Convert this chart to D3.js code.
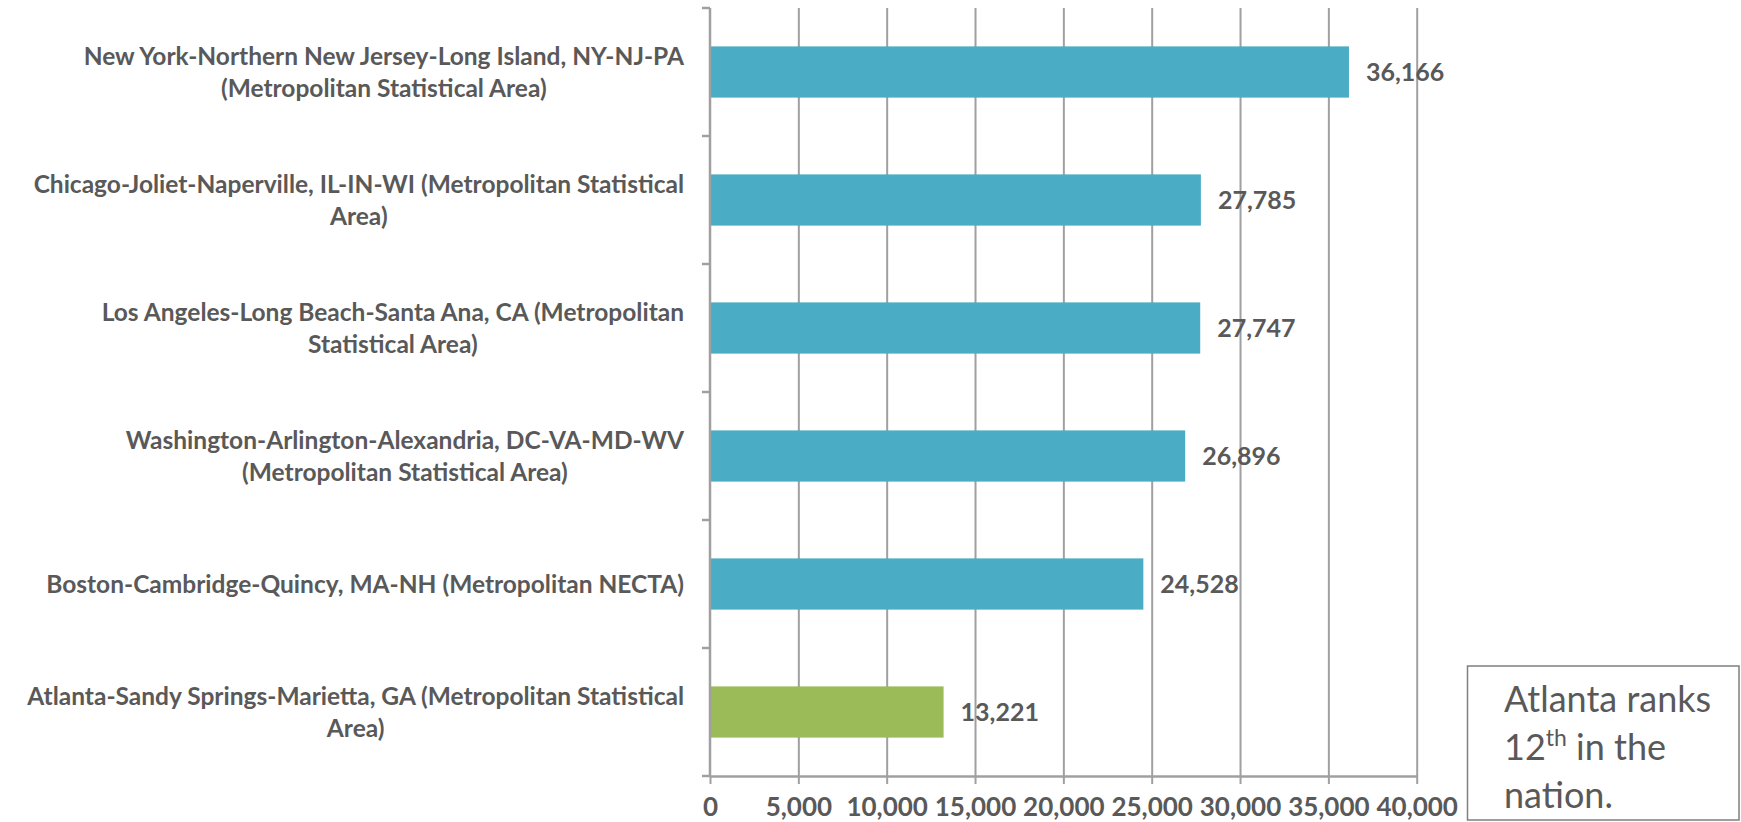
<!DOCTYPE html>
<html>
<head>
<meta charset="utf-8">
<script src="https://cdn.jsdelivr.net/npm/d3@7/dist/d3.min.js"></script>
<style>
  html, body { margin: 0; padding: 0; background: #fff; }
  svg { display: block; }
  text { font-family: Lato, "Open Sans", sans-serif; fill: #595959; }
</style>
</head>
<body>
<svg id="chart" width="1741" height="822"></svg>
<script>
// ---- data ----
const categories = [
  "New York-Northern New Jersey-Long Island, NY-NJ-PA (Metropolitan Statistical Area)",
  "Chicago-Joliet-Naperville, IL-IN-WI (Metropolitan Statistical Area)",
  "Los Angeles-Long Beach-Santa Ana, CA (Metropolitan Statistical Area)",
  "Washington-Arlington-Alexandria, DC-VA-MD-WV (Metropolitan Statistical Area)",
  "Boston-Cambridge-Quincy, MA-NH (Metropolitan NECTA)",
  "Atlanta-Sandy Springs-Marietta, GA (Metropolitan Statistical Area)"
];
const categoryLines = [
  ["New York-Northern New Jersey-Long Island, NY-NJ-PA", "(Metropolitan Statistical Area)"],
  ["Chicago-Joliet-Naperville, IL-IN-WI (Metropolitan Statistical", "Area)"],
  ["Los Angeles-Long Beach-Santa Ana, CA (Metropolitan", "Statistical Area)"],
  ["Washington-Arlington-Alexandria, DC-VA-MD-WV", "(Metropolitan Statistical Area)"],
  ["Boston-Cambridge-Quincy, MA-NH (Metropolitan NECTA)"],
  ["Atlanta-Sandy Springs-Marietta, GA (Metropolitan Statistical", "Area)"]
];
const values = [36166, 27785, 27747, 26896, 24528, 13221];
const highlighted = ["Atlanta-Sandy Springs-Marietta, GA (Metropolitan Statistical Area)"];
const xTicks = [0, 5000, 10000, 15000, 20000, 25000, 30000, 35000, 40000];
const noteLines = ["Atlanta ranks", "12|th| in the", "nation."];

// ---- layout ----
const svg = d3.select("#chart");
const plot = { left: 710, right: 1416.7, top: 8, bottom: 776 };
const gridColor = "#a0a0a0";
const blue = "#4BACC6", green = "#9BBB59";

const x = d3.scaleLinear().domain([0, 40000]).range([plot.left, plot.right]);
const y = d3.scaleBand().domain(categories).range([plot.top, plot.bottom]).padding(0);
const bw = y.bandwidth();

// gridlines
svg.append("g")
  .attr("transform", `translate(0,${plot.bottom})`)
  .call(d3.axisBottom(x).tickValues(xTicks.slice(1)).tickSize(-(plot.bottom - plot.top)).tickFormat(""))
  .call(g => g.select(".domain").remove())
  .call(g => g.selectAll("line").attr("stroke", gridColor).attr("stroke-width", 2));

// bars
const data = categories.map((c, i) => ({ c, v: values[i], lines: categoryLines[i] }));
svg.append("g").selectAll("rect").data(data).join("rect")
  .attr("x", x(0) + 1)
  .attr("y", d => y(d.c) + bw * 0.3)
  .attr("width", d => x(d.v) - x(0) - 1)
  .attr("height", bw * 0.4)
  .attr("fill", d => highlighted.includes(d.c) ? green : blue);

// value labels
svg.append("g").selectAll("text").data(data).join("text")
  .attr("x", d => x(d.v) + 17)
  .attr("y", d => y(d.c) + bw / 2)
  .attr("dy", "0.36em")
  .style("font-size", "25px")
  .style("font-weight", "700")
  .text(d => d3.format(",")(d.v));

// bottom axis
svg.append("g")
  .attr("transform", `translate(0,${plot.bottom})`)
  .call(d3.axisBottom(x).tickValues(xTicks).tickSizeInner(8).tickSizeOuter(0).tickPadding(14).tickFormat(d3.format(",")))
  .call(g => g.select(".domain").attr("stroke", gridColor).attr("stroke-width", 2.5))
  .call(g => g.selectAll("line").attr("stroke", gridColor).attr("stroke-width", 2))
  .call(g => g.selectAll("text").style("font-size", "26px").style("font-weight", "700")
    .style("font-family", "Lato, sans-serif").attr("fill", "#595959"));

// left axis line + category ticks
const yAxis = svg.append("g");
yAxis.append("line")
  .attr("x1", plot.left).attr("x2", plot.left)
  .attr("y1", plot.top).attr("y2", plot.bottom)
  .attr("stroke", gridColor).attr("stroke-width", 2.5);
const boundaries = categories.map(c => y(c)).concat([plot.bottom]);
yAxis.selectAll("line.tick").data(boundaries).join("line")
  .attr("class", "tick")
  .attr("x1", plot.left - 8).attr("x2", plot.left)
  .attr("y1", d => d).attr("y2", d => d)
  .attr("stroke", gridColor).attr("stroke-width", 2.5);

// category labels
const labelRight = 684;
const lineGap = 32;
const lg = svg.append("g");
data.forEach(d => {
  const g = lg.append("g");
  const cy = y(d.c) + bw / 2;
  const n = d.lines.length;
  const texts = d.lines.map((ln, k) => g.append("text")
    .attr("y", cy + (k - (n - 1) / 2) * lineGap)
    .attr("dy", "0.36em")
    .attr("text-anchor", "middle")
    .style("font-size", "24.5px")
    .style("font-weight", "700")
    .text(ln));
  const maxW = d3.max(texts, t => t.node().getComputedTextLength());
  texts.forEach(t => t.attr("x", labelRight - maxW / 2));
});

// annotation box
const note = svg.append("g");
note.append("rect")
  .attr("x", 1467.5).attr("y", 666).attr("width", 271.5).attr("height", 154)
  .attr("fill", "#fff").attr("stroke", "#7f7f7f").attr("stroke-width", 1.5);
noteLines.forEach((ln, k) => {
  const t = note.append("text")
    .attr("x", 1504).attr("y", 712 + k * 48)
    .style("font-size", "36px").style("font-weight", "400");
  const parts = ln.split("|");
  if (parts.length === 3) {
    t.append("tspan").text(parts[0]);
    t.append("tspan").attr("dy", -14).style("font-size", "23px").text(parts[1]);
    t.append("tspan").attr("dy", 14).text(parts[2]);
  } else {
    t.text(ln);
  }
});
</script>
</body>
</html>
